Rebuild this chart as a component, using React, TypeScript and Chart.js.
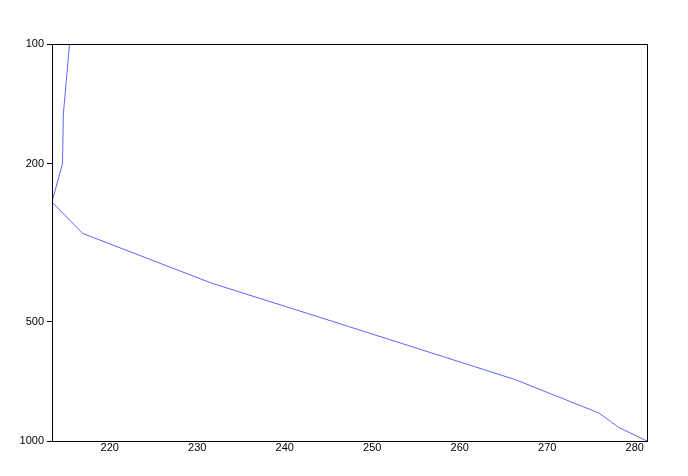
import React, { useEffect, useRef } from "react";
import { Chart, registerables } from "chart.js";

Chart.register(...registerables);

// pressure levels (hPa) and temperature (K)
const pressureLevels = [1000, 925, 850, 700, 500, 400, 300, 250, 200, 150, 100];
const temperatures = [281.4, 278.2, 275.9, 266.3, 245.5, 231.6, 216.9, 213.4, 214.6, 214.7, 215.4];
const xTicks = [220, 230, 240, 250, 260, 270, 280];
const yTicks = [100, 200, 500, 1000];

// draws the full box around the plot area
const frame = {
  id: "frame",
  afterDraw(chart: any) {
    const { ctx, chartArea: a } = chart;
    ctx.save();
    ctx.strokeStyle = "#000";
    ctx.lineWidth = 1;
    ctx.strokeRect(a.left + 0.5, a.top + 0.5, a.right - a.left, a.bottom - a.top);
    ctx.restore();
  },
};

const App = () => {
  const canvas = useRef<HTMLCanvasElement>(null);

  useEffect(() => {
    document.body.style.margin = "0";
    const chart = new Chart(canvas.current!, {
      type: "line",
      data: {
        datasets: [
          {
            data: pressureLevels.map((p, i) => ({ x: temperatures[i], y: p })),
            borderColor: "rgba(60,60,255,0.8)",
            borderWidth: 1,
            pointRadius: 0,
            tension: 0,
          },
        ],
      },
      options: {
        animation: false,
        responsive: false,
        layout: { padding: { top: 44, right: 41, left: 0, bottom: 0 } },
        plugins: { legend: { display: false }, tooltip: { enabled: false } },
        scales: {
          x: {
            type: "linear",
            min: 213.4,
            max: 281.4,
            afterBuildTicks: (s: any) => {
              s.ticks = xTicks.map((v) => ({ value: v }));
            },
            afterFit: (s: any) => {
              s.height = 35;
            },
            grid: { display: false, drawTicks: false },
            border: { display: false },
            ticks: {
              padding: 0,
              color: "#000",
              font: { family: "Liberation Sans", size: 11 },
              maxRotation: 0,
            },
          },
          y: {
            type: "logarithmic",
            reverse: true,
            min: 100,
            max: 1000,
            afterBuildTicks: (s: any) => {
              s.ticks = yTicks.map((v) => ({ value: v }));
            },
            afterFit: (s: any) => {
              s.width = 52;
            },
            grid: {
              drawOnChartArea: false,
              tickLength: 5,
              color: "#000",
            },
            border: { display: false },
            ticks: {
              padding: 3,
              color: "#000",
              font: { family: "Liberation Sans", size: 11 },
              callback: (v: any) => String(v),
            },
          },
        },
      },
      plugins: [frame],
    });
    return () => {
      chart.destroy();
    };
  }, []);

  return <canvas ref={canvas} width={688} height={476} />;
};

export default App;
